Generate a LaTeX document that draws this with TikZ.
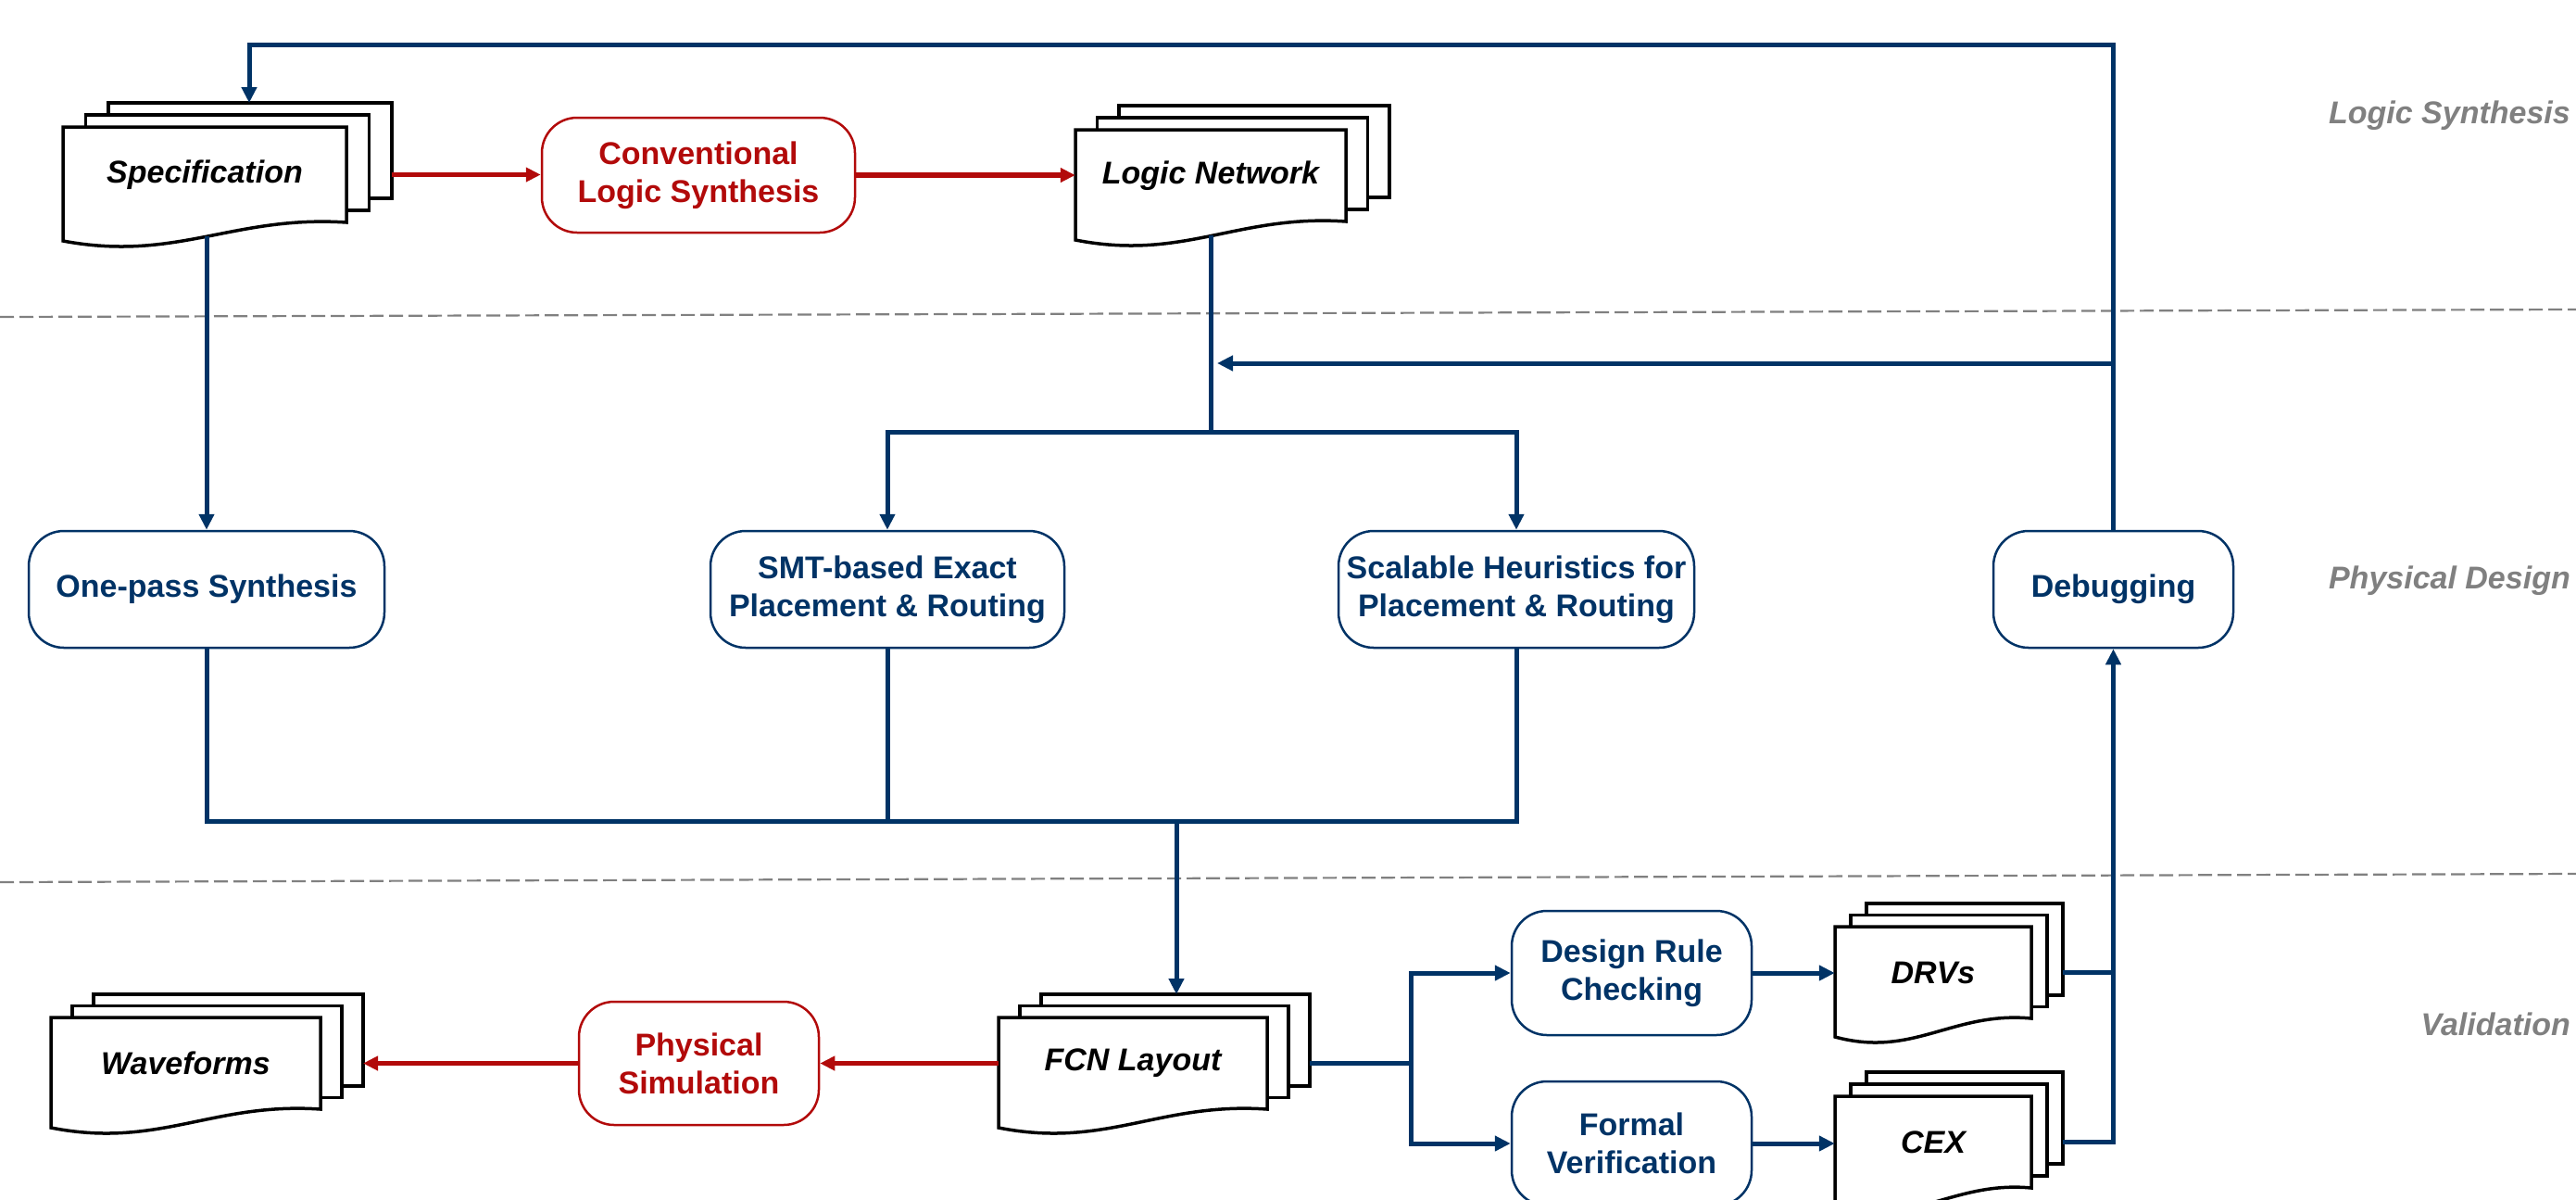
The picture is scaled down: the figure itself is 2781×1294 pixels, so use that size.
\documentclass[tikz,border=0pt]{standalone}
\usepackage{fontspec}
\setmainfont{Liberation Sans}
\usetikzlibrary{arrows.meta,calc}
\definecolor{navy}{RGB}{0,51,102}
\definecolor{dred}{RGB}{178,10,10}
\definecolor{lgray}{RGB}{128,128,128}
\tikzset{
  conn/.style={line width=5pt, draw=navy},
  connarr/.style={conn, -{Triangle[length=17pt,width=16pt]}},
  rconnarr/.style={line width=5.5pt, draw=dred, -{Triangle[length=16pt,width=15pt]}},
  procbox/.style={draw=navy, line width=2.5pt, fill=white, rounded corners=38pt, inner sep=0pt,
    align=center, font=\fontsize{34}{41}\selectfont\bfseries, text=navy},
  redbox/.style={procbox, draw=dred, text=dred},
  docline/.style={draw=black, fill=white, line width=3.5pt, line join=miter},
  doclabel/.style={inner sep=0pt, font=\fontsize{34}{41}\selectfont\bfseries\itshape, text=black},
  sidelabel/.style={anchor=east, inner sep=0pt, font=\fontsize{34}{41}\selectfont\bfseries\itshape, text=lgray},
  sepline/.style={draw=lgray, line width=2.2pt, dash pattern=on 15pt off 6pt},
}
% #1 name, #2 x0, #3 y0, #4 w, #5 h, #6 dx, #7 dy, #8 text
\newcommand\docstack[8]{%
  \path[docline] (#2+2*#6, #3-2*#7) rectangle ++(#4,#5);
  \path[docline] (#2+#6, #3-#7) rectangle ++(#4,#5);
  \path[docline] (#2,#3) -- (#2+#4,#3) -- (#2+#4,#3+#5)
     .. controls (#2+0.6*#4, #3+#5-8) and (#2+0.4*#4, #3+#5+43) .. (#2, #3+#5+20) -- cycle;
  \node[doclabel, minimum width=#4pt, minimum height=#5pt] (#1) at (#2+#4/2, #3+#5/2) {#8};
  \coordinate (#1-r) at (#2+#4+2*#6, #3+#5/2);
  \coordinate (#1-b) at (#2+#4/2, #3+#5+15);
}
\begin{document}
\begin{tikzpicture}[x=1pt,y=-1pt]
\useasboundingbox (0,0) rectangle (2781,1294);
\clip (0,0) rectangle (2781,1294);

% separators
\draw[sepline] (0,342) -- (2781,334);
\draw[sepline] (0,952) -- (2781,943);

% side labels
\node[sidelabel] (lblLS) at (2775,125) {Logic Synthesis};
\node[sidelabel] (lblPD) at (2775,627) {Physical Design};
\node[sidelabel] (lblVal) at (2775,1105) {Validation};

% documents
\docstack{spec}{68}{137}{306}{103}{24.5}{13}{Specification}
\docstack{ln}{1161}{140}{292}{99}{23.5}{13}{Logic Network}
\docstack{wave}{55}{1098}{291}{99}{23}{12.5}{Waveforms}
\docstack{fcn}{1078}{1098}{290}{99}{23}{12.5}{FCN Layout}
\docstack{drvs}{1981}{1000}{212}{99}{17}{12.5}{DRVs}
\docstack{cex}{1981}{1183}{212}{99}{17}{13}{CEX}

% process boxes
\node[redbox, minimum width=338pt, minimum height=124pt] (conv) at (754,189) {Conventional\\Logic Synthesis};
\node[procbox, minimum width=384pt, minimum height=126pt] (onepass) at (223,636) {One-pass Synthesis};
\node[procbox, minimum width=382pt, minimum height=126pt] (smt) at (958,636) {SMT-based Exact\\Placement \& Routing};
\node[procbox, minimum width=384pt, minimum height=126pt] (scal) at (1637,636) {Scalable Heuristics for\\Placement \& Routing};
\node[procbox, minimum width=259pt, minimum height=126pt] (debug) at (2281.5,636) {Debugging};
\node[redbox, minimum width=259pt, minimum height=133pt] (phys) at (754.5,1147.5) {Physical\\Simulation};
\node[procbox, minimum width=259pt, minimum height=134pt] (drc) at (1761.5,1050) {Design Rule\\Checking};
\node[procbox, minimum width=259pt, minimum height=134pt] (formal) at (1761.5,1234) {Formal\\Verification};

% helper coordinates
\coordinate (topy) at (0,48);
\coordinate (spec-t) at (269,111);
\coordinate (fcn-t) at (1270,1073);
\coordinate (bus) at (1270,886);
\coordinate (j1) at (1307,466);
\coordinate (fb) at (0,392);
\coordinate (j2) at (1523,1148);

% red flow
\draw[rconnarr] (spec-r) -- (spec-r -| conv.west);
\draw[rconnarr] (conv.east) -- (conv.east -| ln.west);
\draw[rconnarr] (fcn.west) -- (phys.east);
\draw[rconnarr] (phys.west) -- (phys.west -| wave-r);

% logic network to P&R
\draw[conn] (ln-b) -- (j1);
\draw[connarr] (j1) -| (smt.north);
\draw[connarr] (j1) -| (scal.north);

% spec to one-pass
\draw[connarr] (onepass.north |- spec-b) -- (onepass.north);

% bus to FCN layout
\draw[conn] (onepass.south) -- (onepass.south |- bus) -- (scal.south |- bus) -- (scal.south);
\draw[conn] (smt.south) -- (smt.south |- bus);
\draw[connarr] (bus) -- (fcn-t);

% FCN layout to validation
\draw[conn] (fcn-r) -- (fcn-r -| j2);
\draw[connarr] (j2) |- (drc.west);
\draw[connarr] (j2) |- (formal.west);
\draw[connarr] (drc.east) -- (drc.east -| drvs.west);
\draw[connarr] (formal.east) -- (formal.east -| cex.west);

% results to debugging
\draw[conn] (drvs-r) -- (drvs-r -| debug.south);
\draw[connarr] (cex-r) -| (debug.south);

% debugging feedback
\draw[connarr] (debug.north) -- (debug.north |- topy) -| (spec-t);
\draw[connarr, shorten >=7pt] (debug.north |- fb) -- (j1 |- fb);
\end{tikzpicture}
\end{document}
